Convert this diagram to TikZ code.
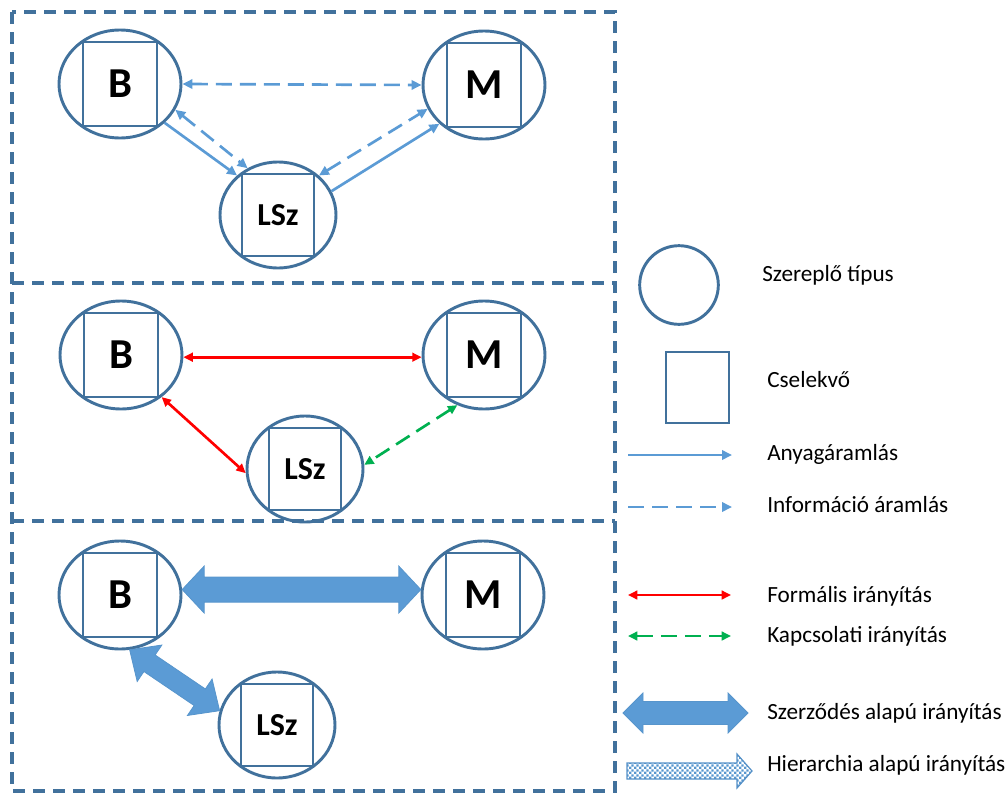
\documentclass[tikz,border=0pt]{standalone}
\usepackage{fontspec}
\setmainfont{Carlito}
\usetikzlibrary{shapes.geometric,arrows.meta,calc,patterns.meta}

\definecolor{frame}{HTML}{41719C}
\definecolor{flow}{HTML}{5B9BD5}
\definecolor{ctrlred}{HTML}{FF0000}
\definecolor{ctrlgreen}{HTML}{00B050}

% checkerboard for hierarchy based control
\tikzdeclarepattern{
  name=finecheck,
  type=uncolored,
  bounding box={(0pt,0pt) and (3.6pt,3.6pt)},
  tile size={(3.6pt,3.6pt)},
  code={
    \fill (0pt,0pt) rectangle (1.8pt,1.8pt);
    \fill (1.8pt,1.8pt) rectangle (3.6pt,3.6pt);
  }
}

\tikzset{
  panelframe/.style={draw=frame, line width=2.4pt, dash pattern=on 9pt off 6pt},
  role/.style={ellipse, draw=frame, line width=2.2pt, inner sep=0pt,
               minimum width=91.5pt, minimum height=81pt},
  rolesmall/.style={role, minimum width=87pt, minimum height=79.5pt},
  actor/.style={rectangle, draw=frame, line width=2.2pt, inner sep=0pt,
                minimum width=55.5pt, minimum height=63pt,
                font=\fontsize{32}{36}\selectfont\bfseries},
  actorsmall/.style={actor, minimum width=54pt, minimum height=61.5pt,
                font=\fontsize{24}{28}\selectfont\bfseries},
  flowtip/.tip={Triangle[length=7.5pt, width=7pt]},
  ctrltip/.tip={Triangle[length=7pt, width=6.5pt]},
  matflow/.style={draw=flow, line width=2pt, -flowtip},
  info/.style={draw=flow, line width=2pt, dash pattern=on 12pt off 6pt},
  formal/.style={draw=ctrlred, line width=2pt, ctrltip-ctrltip},
  relational/.style={draw=ctrlgreen, line width=2pt, dash pattern=on 12pt off 6pt,
                ctrltip-ctrltip},
  contract/.style={fill=flow, draw=flow!85!frame, line width=0.6pt},
  hierarchy/.style={pattern={finecheck}, pattern color=flow!90!frame, draw=flow!75!frame, line width=0.9pt},
  legtext/.style={anchor=base west, inner sep=0pt, font=\fontsize{17.4}{20}\selectfont}
}

% double-headed block arrow between two tips:
% #1,#2 tips, #3 head length, #4 head half-width, #5 shaft half-width, #6 style
\newcommand\fatdouble[6]{%
  \coordinate (fd1) at ($(#1)!#3!(#2)$);
  \coordinate (fd2) at ($(#2)!#3!(#1)$);
  \filldraw[#6] (#1) -- ($(fd1)!#4!90:(#2)$) -- ($(fd1)!#5!90:(#2)$)
    -- ($(fd2)!#5!-90:(#1)$) -- ($(fd2)!#4!-90:(#1)$) -- (#2)
    -- ($(fd2)!#4!90:(#1)$) -- ($(fd2)!#5!90:(#1)$)
    -- ($(fd1)!#5!-90:(#2)$) -- ($(fd1)!#4!-90:(#2)$) -- cycle;
}
% single-headed block arrow from #1 to the tip #2
\newcommand\fatsingle[6]{%
  \coordinate (fs2) at ($(#2)!#3!(#1)$);
  \filldraw[#6] ($(#1)!#5!90:(#2)$) -- ($(fs2)!#5!-90:(#1)$)
    -- ($(fs2)!#4!-90:(#1)$) -- (#2) -- ($(fs2)!#4!90:(#1)$)
    -- ($(fs2)!#5!90:(#1)$) -- ($(#1)!#5!-90:(#2)$) -- cycle;
}

\begin{document}
\begin{tikzpicture}[x=0.75pt, y=-0.75pt]
\useasboundingbox (0,0) rectangle (1008,793);

% panel frames
\draw[panelframe] (12,12) rectangle (615,791);
\draw[panelframe] (12,283) -- (615,283);
\draw[panelframe] (12,521) -- (615,521);

% ---------- panel 1: flows ----------
\node[role] (B1) at (120,84) {};
\node[actor] (B1s) at (B1) {B};
\node[role] (M1) at (484,85) {};
\node[actor] (M1s) at (M1) {M};
\node[rolesmall] (L1) at (278,215) {};
\node[actorsmall] (L1s) at (L1) {LSz};

\draw[info, flowtip-flowtip] (B1.0) -- (M1.180);
\draw[matflow] (B1.-41) -- (L1.136);
\draw[info, flowtip-flowtip] (B1.-25) -- (L1.123);
\draw[info, flowtip-flowtip] (L1.44) -- (M1.203);
\draw[matflow] (L1.24) -- (M1.221);

% ---------- panel 2: formal / relational control ----------
\node[role] (B2) at (121,355) {};
\node[actor] (B2s) at (B2) {B};
\node[role] (M2) at (484,355) {};
\node[actor] (M2s) at (M2) {M};
\node[rolesmall] (L2) at (305,469) {};
\node[actorsmall] (L2s) at (L2) {LSz};

\draw[formal] (B2.-2) -- (M2.182);
\draw[formal] (B2.-46) -- (L2.184);
\draw[relational] (M2.242) -- (L2.4);

% ---------- panel 3: contract based control ----------
\node[role] (B3) at (120,595) {};
\node[actor] (B3s) at (B3) {B};
\node[role] (M3) at (483,595) {};
\node[actor] (M3s) at (M3) {M};
\node[rolesmall] (L3) at (277,725) {};
\node[actorsmall] (L3s) at (L3) {LSz};

\fatdouble{B3.5}{M3.175}{16.5pt}{17.6pt}{9.4pt}{contract}
\fatdouble{B3.-80}{L3.166}{18pt}{16.5pt}{7.5pt}{contract}

% ---------- legend ----------
\node[circle, draw=frame, line width=2.2pt, inner sep=0pt, minimum size=59pt] (kc) at (679,285) {};
\node[legtext] (tc) at (762,281) {Szereplő típus};

\node[rectangle, draw=frame, line width=2.2pt, inner sep=0pt,
      minimum width=47.25pt, minimum height=53.25pt] (ks) at (697.5,387.5) {};
\node[legtext] (ts) at (767,387) {Cselekvő};

\coordinate (la1) at (628,455); \coordinate (la2) at (732,455);
\draw[matflow] (la1) -- (la2);
\node[legtext] (ta) at (767,460) {Anyagáramlás};

\coordinate (li1) at (628,507); \coordinate (li2) at (732,507);
\draw[info, -flowtip] (li1) -- (li2);
\node[legtext] (ti) at (767,512) {Információ áramlás};

\coordinate (lf1) at (628,595); \coordinate (lf2) at (731,595);
\draw[formal] (lf1) -- (lf2);
\node[legtext] (tf) at (767,602) {Formális irányítás};

\coordinate (lk1) at (628,636); \coordinate (lk2) at (731,636);
\draw[relational] (lk1) -- (lk2);
\node[legtext] (tk) at (767,642) {Kapcsolati irányítás};

\coordinate (lsz1) at (623,713); \coordinate (lsz2) at (748,713);
\fatdouble{lsz1}{lsz2}{15pt}{15pt}{8.6pt}{contract}
\node[legtext] (tsz) at (767,719) {Szerződés alapú irányítás};

\coordinate (lh1) at (627,771); \coordinate (lh2) at (752,771);
\fatsingle{lh1}{lh2}{11.25pt}{12.75pt}{6pt}{hierarchy}
\node[legtext] (th) at (767,771) {Hierarchia alapú irányítás};
\end{tikzpicture}
\end{document}
